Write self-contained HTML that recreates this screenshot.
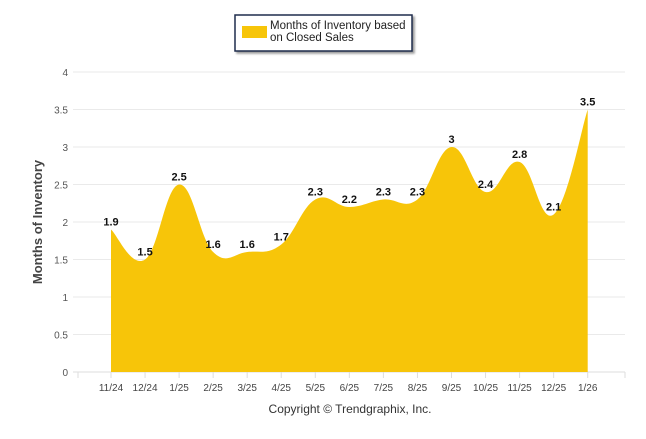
<!DOCTYPE html>
<html><head><meta charset="utf-8"><style>
body{margin:0;background:#fff;font-family:"Liberation Sans",sans-serif;}
svg text{font-family:"Liberation Sans",sans-serif;}
</style></head><body>
<svg width="646" height="434" id="c">
<g>
<rect x="235" y="15" width="177" height="36" fill="#fff" stroke="#1f2d4d" stroke-width="1.5" style="filter:drop-shadow(2px 2px 1px #999)"/>
<rect x="242" y="26" width="25" height="12" fill="#f7c509"/>
<text x="270" y="29" font-size="11.5" fill="#222">Months of Inventory based</text>
<text x="270" y="41" font-size="11.5" fill="#222">on Closed Sales</text>
</g>
<text transform="translate(42,222) rotate(-90)" text-anchor="middle" font-size="13" font-weight="bold" fill="#444">Months of Inventory</text>
<text x="350" y="413" text-anchor="middle" font-size="12" fill="#333">Copyright © Trendgraphix, Inc.</text>
<g id="grid"></g><g id="plot"></g>
</svg>
<script>
const categories=["11/24","12/24","1/25","2/25","3/25","4/25","5/25","6/25","7/25","8/25","9/25","10/25","11/25","12/25","1/26"];
const values=[1.9,1.5,2.5,1.6,1.6,1.7,2.3,2.2,2.3,2.3,3,2.4,2.8,2.1,3.5];
const yTicks=[0,0.5,1,1.5,2,2.5,3,3.5,4];
const NS="http://www.w3.org/2000/svg";
const x=i=>111+i*34.05, y=v=>372-v*75;
function mk(t,a,p){const e=document.createElementNS(NS,t);for(const k in a)e.setAttribute(k,a[k]);p.appendChild(e);return e;}
const g=document.getElementById('grid'),p=document.getElementById('plot');
yTicks.forEach(t=>{
 const l=mk('line',{x1:73,x2:625,y1:y(t),y2:y(t),stroke:t==0?'#ddd':'#eaeaea'},g);
 
 
 const tx=mk('text',{x:68,y:y(t)+4,'text-anchor':'end','font-size':10,fill:'#555'},g);tx.textContent=t;
 
 
});
[78,625].concat(categories.map((c,i)=>x(i))).forEach(xx=>mk('line',{x1:xx,x2:xx,y1:372,y2:378,stroke:'#ddd'},g));
categories.forEach((c,i)=>{const t=mk('text',{x:x(i),y:391,'text-anchor':'middle','font-size':10,fill:'#444'},g);t.textContent=c;
 
 });
const pts=values.map((v,i)=>[x(i),y(v)]);
let d=`M${pts[0][0]},${y(0)} L${pts[0][0]},${pts[0][1]}`;
for(let i=0;i<pts.length-1;i++){
 const p0=pts[Math.max(0,i-1)],p1=pts[i],p2=pts[i+1],p3=pts[Math.min(pts.length-1,i+2)];
 const k=0.2;
 d+=` C${p1[0]+(p2[0]-p0[0])*k},${p1[1]+(p2[1]-p0[1])*k} ${p2[0]-(p3[0]-p1[0])*k},${p2[1]-(p3[1]-p1[1])*k} ${p2[0]},${p2[1]}`;
}
d+=` L${pts[pts.length-1][0]},${y(0)} Z`;
const a=mk('path',{d:d,fill:'#f7c509'},p);


values.forEach((v,i)=>{const t=mk('text',{x:x(i),y:y(v)-4,'text-anchor':'middle','font-size':11,'font-weight':'bold',fill:'#111'},p);t.textContent=v;
 
 });
</script>
</body></html>
